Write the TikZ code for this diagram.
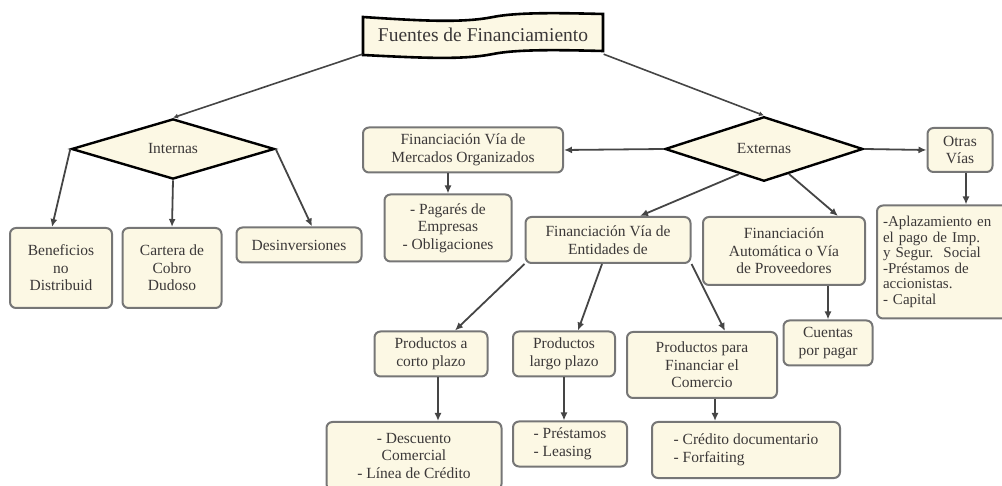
\documentclass[tikz,border=0pt]{standalone}
\usepackage{fontspec}
\setmainfont{Liberation Serif}
\usetikzlibrary{shapes.geometric,arrows.meta,calc}

\definecolor{cream}{HTML}{FCF8E4}
\definecolor{boxline}{HTML}{767676}
\definecolor{ink}{HTML}{3B3838}
\definecolor{wire}{HTML}{454545}

\begin{document}
\begin{tikzpicture}[
  x=1pt, y=-1pt,
  >={Latex[length=8pt,width=7pt]},
  font=\fontsize{15.5}{17.5}\selectfont,
  caja/.style={draw=boxline, fill=cream, line width=2pt, rounded corners=6pt, align=center, text=ink, inner sep=2pt},
  lista/.style={caja, align=left},
  rombo/.style={diamond, draw=black, line width=2.4pt, fill=cream, inner sep=0pt, text=ink},
  flecha/.style={->, draw=wire, line width=1.8pt},
  fina/.style={-{Latex[length=5pt,width=5pt]}, draw=wire, line width=1.6pt}
]
\useasboundingbox (0,0) rectangle (1002,486);

% titulo
\coordinate (tc) at (483,35);
\draw[line width=2.6pt, fill=cream, shift={(tc)}] (-120,-18) .. controls (-60,-14) and (-20,-12) .. (10,-18) .. controls (35,-23) and (80,-22) .. (120,-21) -- (120,16) .. controls (80,15) and (35,14) .. (10,19) .. controls (-20,25) and (-60,23) .. (-120,20) -- cycle;
\node[text=ink, font=\fontsize{19.5}{21}\selectfont, minimum width=241pt, minimum height=38pt, inner sep=0pt] (titulo) at (tc) {Fuentes de Financiamiento};

% fuentes internas
\node[rombo, minimum width=203pt, minimum height=47pt] (int) at (173,149) {Internas};
\node[caja, minimum width=102pt, minimum height=80pt] (ben) at (61,268) {Beneficios\\no\\Distribuid};
\node[caja, minimum width=99pt, minimum height=80pt] (car) at (172,268) {Cartera de\\Cobro\\Dudoso};
\node[caja, minimum width=125pt, minimum height=35pt] (des) at (299,245) {Desinversiones};

% fuentes externas
\node[rombo, minimum width=198pt, minimum height=48pt] (ext) at (764,149) {Externas};
\node[caja, minimum width=200pt, minimum height=45pt] (mer) at (463,150) {Financiación Vía de\\Mercados Organizados};
\node[caja, minimum width=127pt, minimum height=67pt] (pag) at (448,228) {- Pagarés de\\Empresas\\- Obligaciones};
\node[caja, minimum width=165pt, minimum height=46pt] (ent) at (608,240) {Financiación Vía de\\Entidades de};
\node[caja, minimum width=162pt, minimum height=68pt] (aut) at (784,251) {Financiación\\Automática o Vía\\de Proveedores};
\node[caja, minimum width=65pt, minimum height=44pt] (otr) at (960,150) {Otras\\Vías};
\node[lista, font=\fontsize{15}{15.5}\selectfont, text width=122pt, inner xsep=6pt, minimum height=113pt] (apl) at (944,262) {-Aplazamiento en\\el pago de Imp.\\y Segur.\ \ Social\\-Préstamos de\\accionistas.\\- Capital};
\node[caja, minimum width=89pt, minimum height=45pt] (cue) at (828,343) {Cuentas\\por pagar};

% productos
\node[caja, minimum width=113pt, minimum height=45pt] (cor) at (431,354) {Productos a\\corto plazo};
\node[caja, minimum width=102pt, minimum height=45pt] (lar) at (564,354) {Productos\\largo plazo};
\node[caja, minimum width=150pt, minimum height=66pt] (com) at (702,365) {Productos para\\Financiar el\\Comercio};
\node[caja, minimum width=175pt, minimum height=68pt] (dsc) at (414,456) {- Descuento\\Comercial\\- Línea de Crédito};
\node[lista, minimum width=114pt, minimum height=45pt] (pre) at (570,444) {- Préstamos\\- Leasing};
\node[lista, minimum width=188pt, minimum height=56pt] (cre) at (746,450) {- Crédito documentario\\- Forfaiting};

% conectores
\draw[fina] (titulo.south west) -- (int.north);
\draw[fina] (titulo.south east) -- (ext.north);
\draw[flecha] (int.west) -- ([xshift=-9pt]ben.north);
\draw[flecha] (int.south) -- (car.north);
\draw[flecha] (int.east) -- ([xshift=13pt]des.north);
\draw[flecha] (ext.west) -- (mer.east);
\draw[flecha] (pag.north |- mer.south) -- (pag.north);
\draw[flecha] ($(ext.south)!0.5!(ext.south west)$) -- ([xshift=32pt]ent.north);
\draw[flecha] ($(ext.south)!0.5!(ext.south east)$) -- ([xshift=54pt]aut.north);
\draw[flecha] (ext.east) -- (otr.west);
\draw[flecha] ([xshift=6pt]otr.south) -- ([xshift=6pt]otr.south |- apl.north);
\draw[flecha] (cue.north |- aut.south) -- (cue.north);
\draw[flecha] (ent.south west) -- ([xshift=24pt]cor.north);
\draw[flecha] ([xshift=-6pt]ent.south) -- ([xshift=14pt]lar.north);
\draw[flecha] (ent.south east) -- ([xshift=23pt]com.north);
\draw[flecha] ([xshift=7pt]cor.south) -- ([xshift=7pt]cor.south |- dsc.north);
\draw[flecha] (lar.south) -- (lar.south |- pre.north);
\draw[flecha] ([xshift=13pt]com.south) -- ([xshift=13pt]com.south |- cre.north);

\end{tikzpicture}
\end{document}
